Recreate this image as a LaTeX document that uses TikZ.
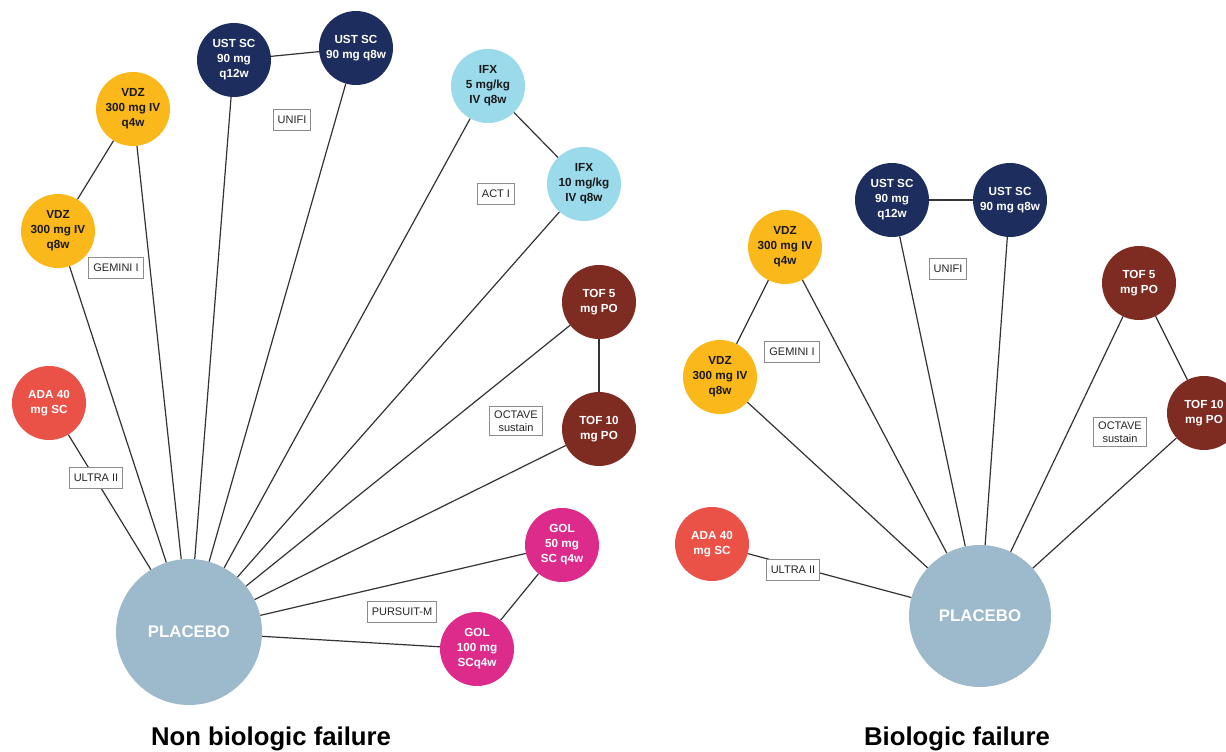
\documentclass[tikz,border=0pt]{standalone}
\usepackage{fontspec}
\setmainfont{Liberation Sans}
\usepackage{xcolor}
\definecolor{vdzyellow}{HTML}{FBB81B}
\definecolor{ustnavy}{HTML}{1C2D5E}
\definecolor{ifxblue}{HTML}{9BDAEB}
\definecolor{tofred}{HTML}{7E2B22}
\definecolor{adared}{HTML}{EB5247}
\definecolor{golpink}{HTML}{DC2B8A}
\definecolor{placeboblue}{HTML}{9DB9CC}

\begin{document}
\begin{tikzpicture}[
  x=1pt,
  y=-1pt,
  font=\fontsize{11.7}{15}\selectfont\bfseries,
  arm/.style={
    circle,
    minimum size=74pt,
    inner sep=0pt,
    align=center,
    text=white
  },
  vdz/.style={arm,fill=vdzyellow,text=black!90},
  ust/.style={arm,fill=ustnavy},
  ifx/.style={arm,fill=ifxblue,text=black!90},
  tof/.style={arm,fill=tofred},
  ada/.style={arm,fill=adared},
  gol/.style={arm,fill=golpink},
  placebo/.style={
    circle,
    fill=placeboblue,
    minimum size=146pt,
    inner sep=0pt,
    text=white,
    font=\fontsize{16.8}{20}\selectfont\bfseries
  },
  trialtag/.style={
    draw=black!45,
    line width=1pt,
    fill=white,
    align=center,
    text=black!85,
    font=\fontsize{11}{13.5}\selectfont,
    inner xsep=4.5pt,
    inner ysep=3.5pt,
    minimum height=21pt
  },
  link/.style={draw=black!80,line width=1.2pt},
  paneltitle/.style={anchor=base,font=\fontsize{25.7}{30}\selectfont\bfseries}
]
  \path[use as bounding box,fill=white] (0,0) rectangle (1226,752);

  % Non biologic failure network.
  \node[placebo] (lpbo) at (189,632) {PLACEBO};
  \node[ada] (lada) at (49,403) {ADA 40\\mg SC};
  \node[vdz] (lvdz8) at (58,231) {VDZ\\300 mg IV\\q8w};
  \node[vdz] (lvdz4) at (133,109) {VDZ\\300 mg IV\\q4w};
  \node[ust] (lust12) at (234,60) {UST SC\\90 mg\\q12w};
  \node[ust] (lust8) at (356,48) {UST SC\\90 mg q8w};
  \node[ifx] (lifx5) at (488,86) {IFX\\5 mg/kg\\IV q8w};
  \node[ifx] (lifx10) at (584,184) {IFX\\10 mg/kg\\IV q8w};
  \node[tof] (ltof5) at (599,302) {TOF 5\\mg PO};
  \node[tof] (ltof10) at (599,429) {TOF 10\\mg PO};
  \node[gol] (lgol50) at (562,545) {GOL\\50 mg\\SC q4w};
  \node[gol] (lgol100) at (477,649) {GOL\\100 mg\\SCq4w};

  \draw[link] (lada) -- (lpbo);
  \draw[link] (lvdz8) -- (lpbo);
  \draw[link] (lvdz4) -- (lpbo);
  \draw[link] (lust12) -- (lpbo);
  \draw[link] (lust8) -- (lpbo);
  \draw[link] (lifx5) -- (lpbo);
  \draw[link] (lifx10) -- (lpbo);
  \draw[link] (ltof5) -- (lpbo);
  \draw[link] (ltof10) -- (lpbo);
  \draw[link] (lgol50) -- (lpbo);
  \draw[link] (lgol100) -- (lpbo);

  \draw[link] (lvdz4) -- (lvdz8);
  \draw[link] (lust12) -- (lust8);
  \draw[link] (lifx5) -- (lifx10);
  \draw[link] (ltof5) -- (ltof10);
  \draw[link] (lgol50) -- (lgol100);

  \node[trialtag] (lultra) at (96,478) {ULTRA II};
  \node[trialtag] (lgemini) at (116,268) {GEMINI I};
  \node[trialtag] (lunifi) at (292,120) {UNIFI};
  \node[trialtag] (lact) at (496,194) {ACT I};
  \node[trialtag] (loctave) at (516,421) {OCTAVE\\sustain};
  \node[trialtag] (lpursuit) at (402,612) {PURSUIT-M};

  \node[paneltitle] (ltitle) at (271,745) {Non biologic failure};

  % Biologic failure network.
  \node[placebo,minimum size=142pt] (rpbo) at (980,616) {PLACEBO};
  \node[ada] (rada) at (712,544) {ADA 40\\mg SC};
  \node[vdz] (rvdz8) at (720,377) {VDZ\\300 mg IV\\q8w};
  \node[vdz] (rvdz4) at (785,247) {VDZ\\300 mg IV\\q4w};
  \node[ust] (rust12) at (892,200) {UST SC\\90 mg\\q12w};
  \node[ust] (rust8) at (1010,200) {UST SC\\90 mg q8w};
  \node[tof] (rtof5) at (1139,283) {TOF 5\\mg PO};
  \node[tof] (rtof10) at (1204,413) {TOF 10\\mg PO};

  \draw[link] (rada) -- (rpbo);
  \draw[link] (rvdz8) -- (rpbo);
  \draw[link] (rvdz4) -- (rpbo);
  \draw[link] (rust12) -- (rpbo);
  \draw[link] (rust8) -- (rpbo);
  \draw[link] (rtof5) -- (rpbo);
  \draw[link] (rtof10) -- (rpbo);

  \draw[link] (rvdz4) -- (rvdz8);
  \draw[link] (rust12) -- (rust8);
  \draw[link] (rtof5) -- (rtof10);

  \node[trialtag] (rultra) at (793,570) {ULTRA II};
  \node[trialtag] (rgemini) at (792,352) {GEMINI I};
  \node[trialtag] (runifi) at (948,269) {UNIFI};
  \node[trialtag] (roctave) at (1120,432) {OCTAVE\\sustain};

  \node[paneltitle] (rtitle) at (957,745) {Biologic failure};
\end{tikzpicture}
\end{document}
